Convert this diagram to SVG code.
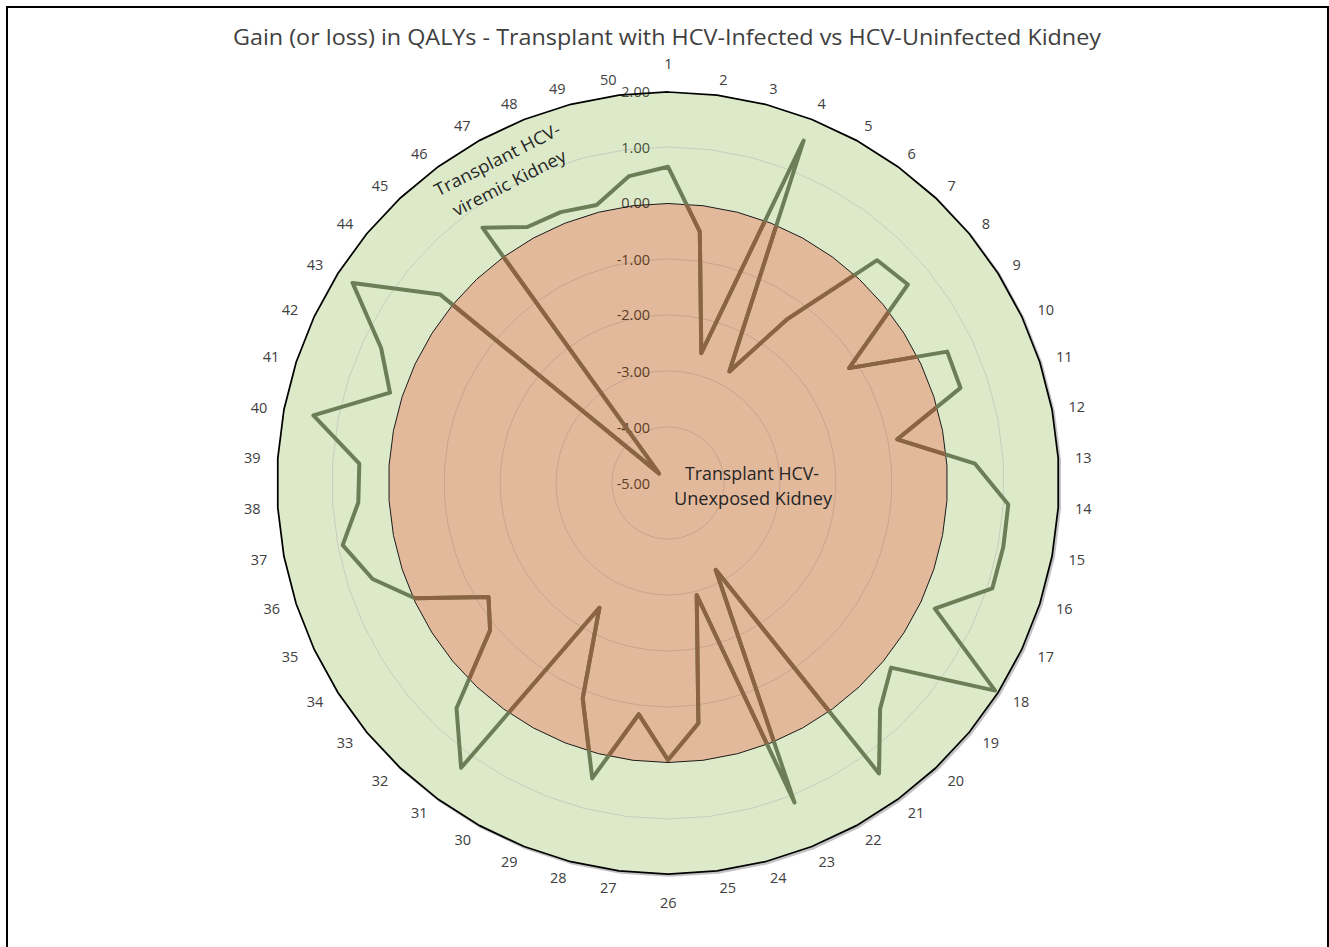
<svg xmlns="http://www.w3.org/2000/svg" xmlns:xlink="http://www.w3.org/1999/xlink" width="1329" height="947" viewBox="0 0 1329 947">
<style>
.cat{font-family:"Open Sans","Liberation Sans",sans-serif;font-size:14.5px;fill:#404040;text-anchor:middle}
.ax{font-family:"Open Sans","Liberation Sans",sans-serif;font-size:14.5px;text-anchor:end}
.lbl{font-family:"Open Sans","Liberation Sans",sans-serif;font-size:17.5px;fill:#262626}
.grid{fill:none;stroke-width:1}
</style>
<defs>
<polygon id="p50" vector-effect="non-scaling-stroke" points="0,-100 12.533,-99.211 24.869,-96.858 36.812,-92.978 48.175,-87.631 58.779,-80.902 68.455,-72.897 77.051,-63.742 84.433,-53.583 90.483,-42.578 95.106,-30.902 98.229,-18.738 99.803,-6.279 99.803,6.279 98.229,18.738 95.106,30.902 90.483,42.578 84.433,53.583 77.051,63.742 68.455,72.897 58.779,80.902 48.175,87.631 36.812,92.978 24.869,96.858 12.533,99.211 0,100 -12.533,99.211 -24.869,96.858 -36.812,92.978 -48.175,87.631 -58.779,80.902 -68.455,72.897 -77.051,63.742 -84.433,53.583 -90.483,42.578 -95.106,30.902 -98.229,18.738 -99.803,6.279 -99.803,-6.279 -98.229,-18.738 -95.106,-30.902 -90.483,-42.578 -84.433,-53.583 -77.051,-63.742 -68.455,-72.897 -58.779,-80.902 -48.175,-87.631 -36.812,-92.978 -24.869,-96.858 -12.533,-99.211"/>
<clipPath id="clipOrange">
<use xlink:href="#p50" transform="translate(668 483) scale(2.795)"/>
</clipPath>
<polygon id="series" points="668,166.7 699.8,231.7 701.3,353.2 803.6,140.6 729.4,371.4 786.9,319.4 877.2,260.2 907.9,284.5 849.1,368.1 947.2,351.6 960.5,387.9 897.3,439.3 975.0,463.7 1008.3,504.4 1003.3,547.0 992.3,588.4 934.8,608.6 995.1,690.6 891.1,667.6 880.1,708.9 879.0,773.4 715.7,569.8 794.5,802.5 696.7,595.0 698.4,723.3 668,760 638.8,714.3 592.2,778.3 582.7,698.3 599.4,607.8 461.1,767.8 456.5,708.2 490.1,630.2 488.5,596.9 415,598.3 372.6,579.0 342.7,545.1 358.3,502.5 359.3,463.6 313.4,415.4 390.0,392.7 381.1,348.0 352.6,282.9 440.3,294.6 659.0,473.4 482.5,227.7 527.3,227.0 560.7,212.1 596.6,205.0 629.2,176.1"/>
</defs>
<rect width="1329" height="947" fill="#ffffff"/>
<rect id="frame" x="7" y="7" width="1321" height="980" fill="none" stroke="#000000" stroke-width="2"/>
<text id="title" x="667" y="45" font-family="'Open Sans', 'Liberation Sans', sans-serif" font-size="21" fill="#404040" text-anchor="middle" textLength="868" lengthAdjust="spacingAndGlyphs">Gain (or loss) in QALYs - Transplant with HCV-Infected vs HCV-Uninfected Kidney</text>

<g id="plot-area">
<use xlink:href="#p50" transform="translate(669.5 484.5) scale(3.91)" fill="none" stroke="#c4c4c4" stroke-width="2.5"/>
<use id="area-viremic" xlink:href="#p50" transform="translate(668 483) scale(3.91)" fill="#DDEAC9" stroke="none"/>
<use id="area-unexposed" xlink:href="#p50" transform="translate(668 483) scale(2.795)" fill="#E3B99C" stroke="none"/>
<g id="gridlines">
<use xlink:href="#p50" class="grid" stroke="#C8A58C" transform="translate(668 483) scale(0.56)"/>
<use xlink:href="#p50" class="grid" stroke="#C8A58C" transform="translate(668 483) scale(1.12)"/>
<use xlink:href="#p50" class="grid" stroke="#C8A58C" transform="translate(668 483) scale(1.68)"/>
<use xlink:href="#p50" class="grid" stroke="#C8A58C" transform="translate(668 483) scale(2.24)"/>
<use xlink:href="#p50" class="grid" stroke="#C8CDBE" transform="translate(668 483) scale(3.36)"/>
</g>
<g id="value-axis">
<text class="ax" x="650" y="96.7" fill="#4a5344">2.00</text>
<text class="ax" x="650" y="152.7" fill="#46523c">1.00</text>
<text class="ax" x="650" y="208.3" fill="#4c4234">0.00</text>
<text class="ax" x="650" y="265" fill="#5b3d26">-1.00</text>
<text class="ax" x="650" y="320.3" fill="#5b3d26">-2.00</text>
<text class="ax" x="650" y="376.7" fill="#5b3d26">-3.00</text>
<text class="ax" x="650" y="432.7" fill="#5b3d26">-4.00</text>
<text class="ax" x="650" y="489" fill="#5b3d26">-5.00</text>
</g>
<use xlink:href="#p50" transform="translate(668 483) scale(3.91)" fill="none" stroke="#000000" stroke-width="1.75"/>
<use xlink:href="#p50" transform="translate(668 483) scale(2.795)" fill="none" stroke="#1a1a1a" stroke-width="1"/>
</g>

<g id="connectors">
<use xlink:href="#series" fill="none" stroke="#6B7E57" stroke-width="4" stroke-linejoin="round"/>
<use xlink:href="#series" fill="none" stroke="#8C6444" stroke-width="4" stroke-linejoin="round" clip-path="url(#clipOrange)"/>
</g>

<g id="label-viremic" transform="translate(500.2 165.1) rotate(-27)">
<text class="lbl" x="0" y="0" text-anchor="middle" textLength="139" lengthAdjust="spacingAndGlyphs">Transplant HCV-</text>
<text class="lbl" x="0" y="26.2" text-anchor="middle" textLength="125" lengthAdjust="spacingAndGlyphs">viremic Kidney</text>
</g>
<g id="label-unexposed">
<text class="lbl" x="752" y="480" text-anchor="middle" textLength="134" lengthAdjust="spacingAndGlyphs">Transplant HCV-</text>
<text class="lbl" x="753" y="505" text-anchor="middle" textLength="158" lengthAdjust="spacingAndGlyphs">Unexposed Kidney</text>
</g>

<g id="category-labels">
<text class="cat" x="668.3" y="69">1</text>
<text class="cat" x="723.3" y="84.5">2</text>
<text class="cat" x="773.3" y="94.2">3</text>
<text class="cat" x="821.7" y="108.5">4</text>
<text class="cat" x="868.3" y="131.2">5</text>
<text class="cat" x="911.7" y="159.2">6</text>
<text class="cat" x="951.7" y="190.9">7</text>
<text class="cat" x="986" y="228.5">8</text>
<text class="cat" x="1016.7" y="270.2">9</text>
<text class="cat" x="1045.7" y="314.5">10</text>
<text class="cat" x="1064.3" y="361.9">11</text>
<text class="cat" x="1076.7" y="411.9">12</text>
<text class="cat" x="1083.3" y="462.9">13</text>
<text class="cat" x="1083.3" y="514.2">14</text>
<text class="cat" x="1076.7" y="564.5">15</text>
<text class="cat" x="1064.3" y="613.5">16</text>
<text class="cat" x="1045.7" y="661.9">17</text>
<text class="cat" x="1021" y="706.9">18</text>
<text class="cat" x="990.7" y="747.9">19</text>
<text class="cat" x="955.7" y="785.9">20</text>
<text class="cat" x="916" y="817.9">21</text>
<text class="cat" x="873.3" y="845.2">22</text>
<text class="cat" x="826.7" y="866.9">23</text>
<text class="cat" x="778.3" y="882.9">24</text>
<text class="cat" x="727.7" y="892.9">25</text>
<text class="cat" x="668.3" y="907.9">26</text>
<text class="cat" x="608.3" y="892.9">27</text>
<text class="cat" x="558.3" y="882.9">28</text>
<text class="cat" x="509.3" y="866.9">29</text>
<text class="cat" x="462.7" y="845.2">30</text>
<text class="cat" x="419.3" y="817.9">31</text>
<text class="cat" x="380" y="785.9">32</text>
<text class="cat" x="345" y="747.9">33</text>
<text class="cat" x="315" y="706.9">34</text>
<text class="cat" x="290" y="661.9">35</text>
<text class="cat" x="271.7" y="613.5">36</text>
<text class="cat" x="259" y="564.5">37</text>
<text class="cat" x="252.3" y="514.2">38</text>
<text class="cat" x="252.3" y="462.9">39</text>
<text class="cat" x="259" y="412.5">40</text>
<text class="cat" x="271" y="361.9">41</text>
<text class="cat" x="290" y="314.5">42</text>
<text class="cat" x="315" y="270.2">43</text>
<text class="cat" x="345" y="229.2">44</text>
<text class="cat" x="380" y="190.9">45</text>
<text class="cat" x="419.3" y="159.2">46</text>
<text class="cat" x="462.3" y="131.2">47</text>
<text class="cat" x="509.3" y="108.5">48</text>
<text class="cat" x="557.3" y="94.2">49</text>
<text class="cat" x="608.3" y="84.5">50</text>
</g>
</svg>
